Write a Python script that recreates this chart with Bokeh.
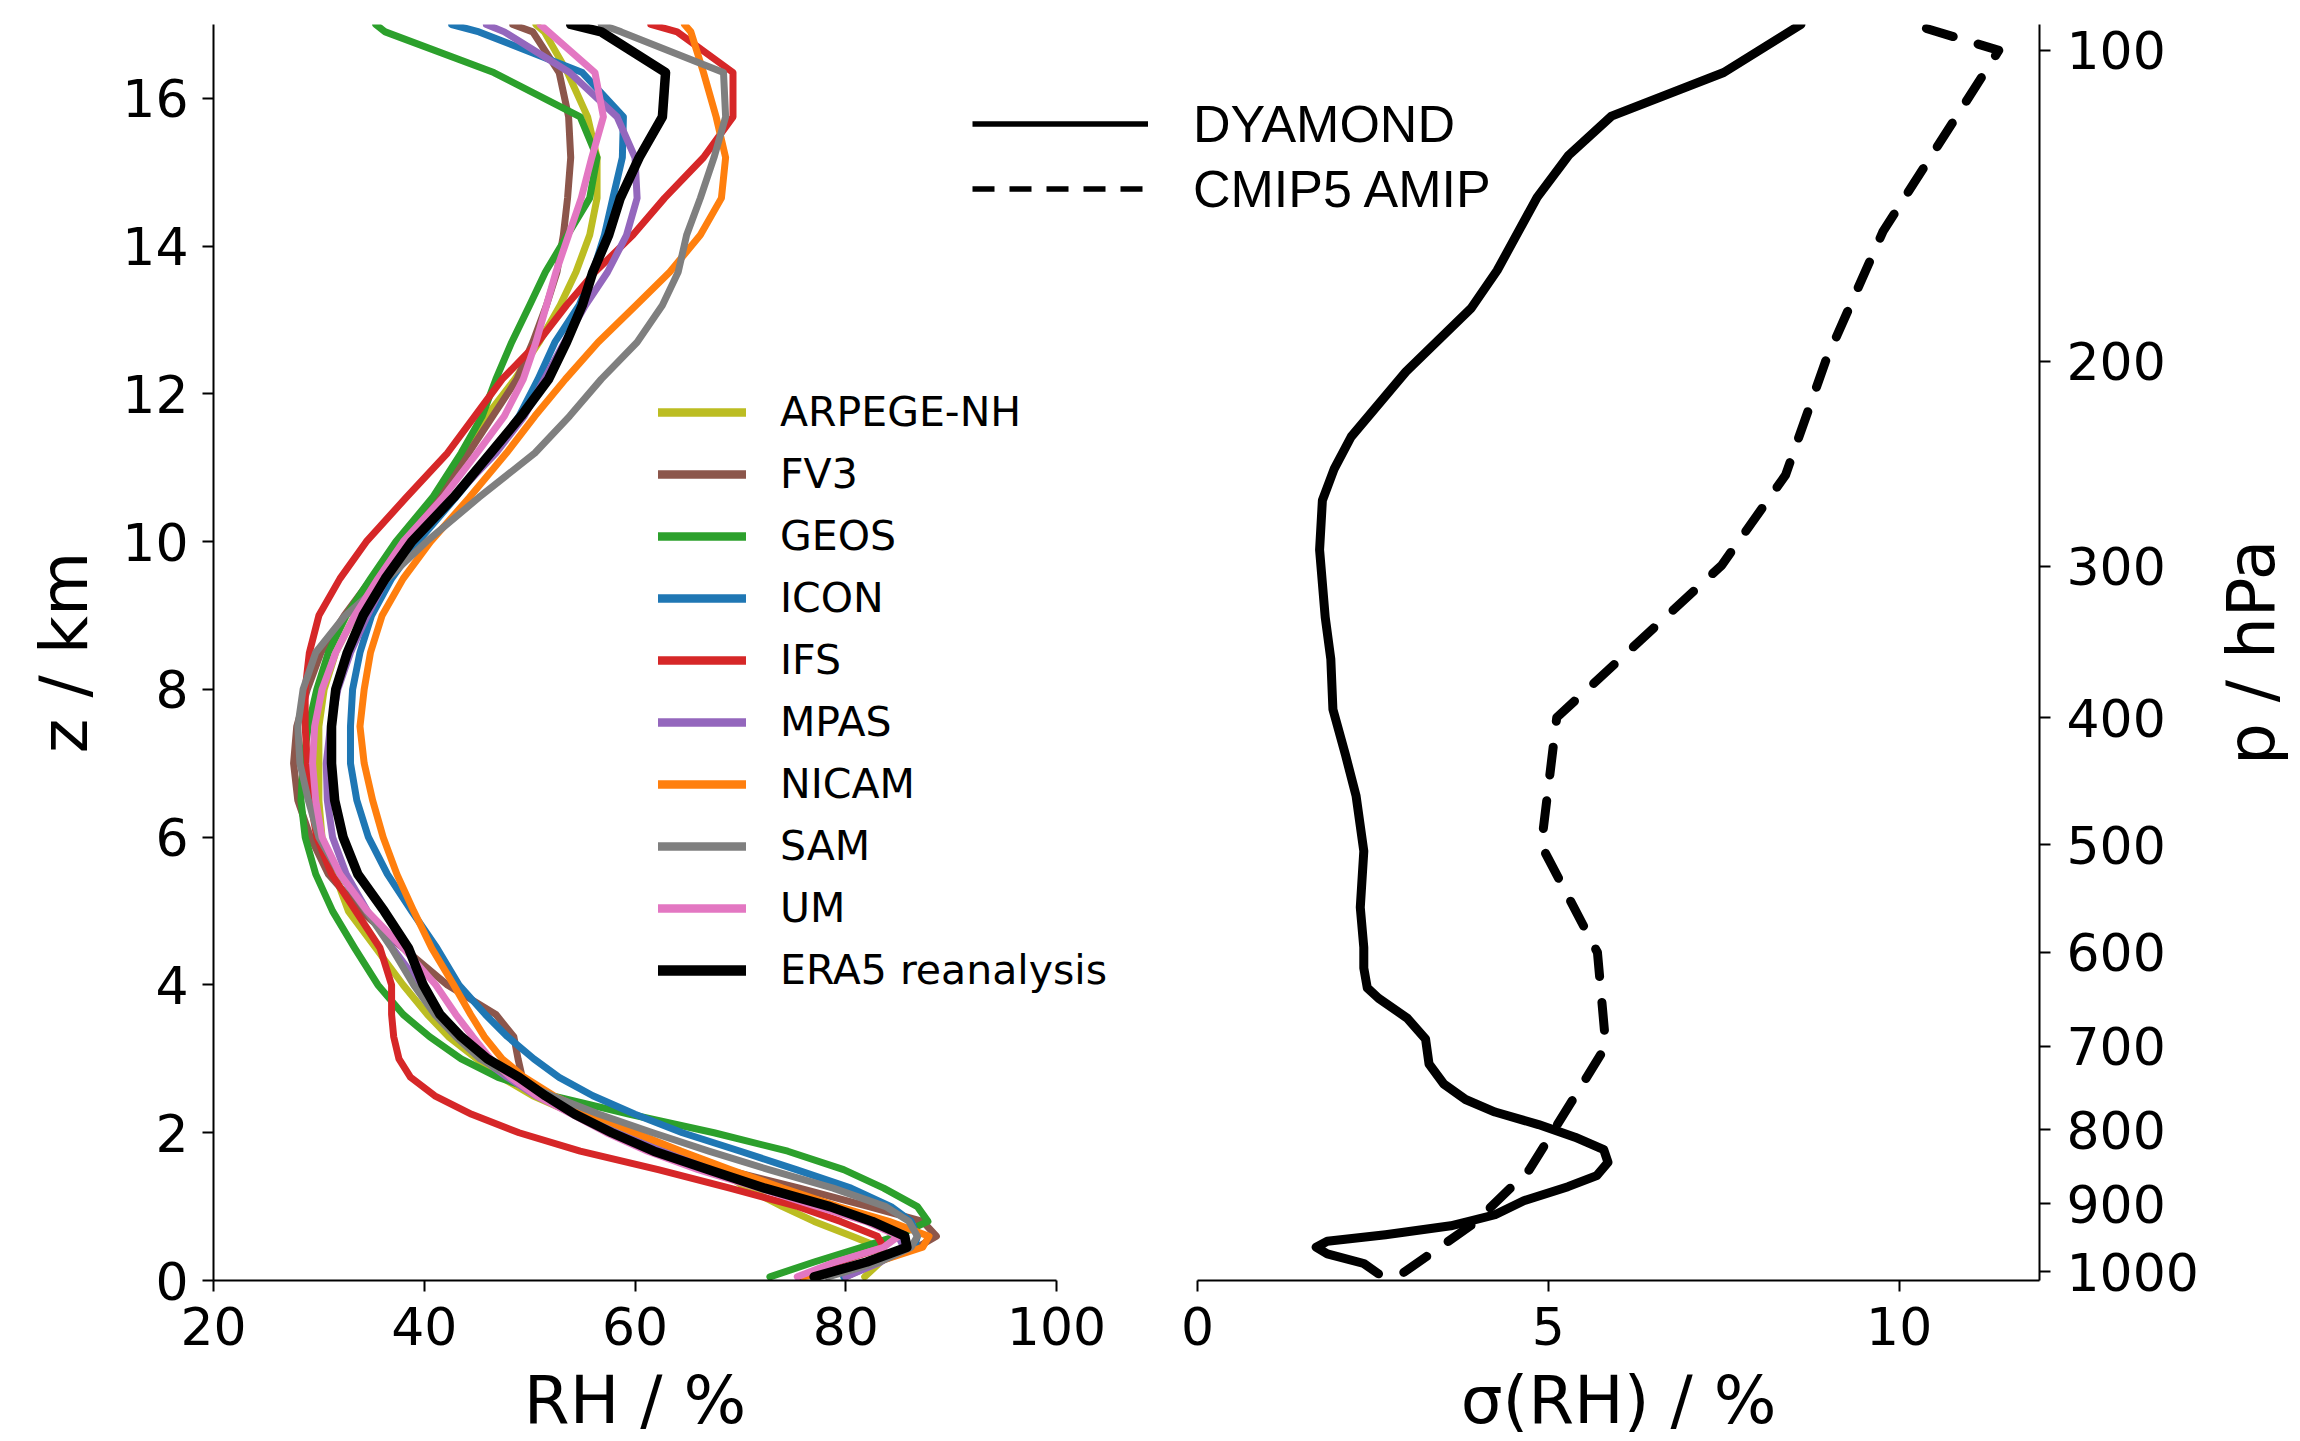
import math
from bokeh.plotting import figure
from bokeh.models import Range1d, FixedTicker, Legend, LegendItem, Label
from bokeh.layouts import row
from bokeh.embed import file_html
from bokeh.resources import INLINE

FONT = "DejaVu Sans"
NAN = float("nan")

# ---------------- data: left panel (RH profiles) ----------------
z_km = [0.05, 0.25, 0.45, 0.6, 0.8, 1.0, 1.25, 1.5, 1.75, 2.0,
        2.25, 2.5, 2.75, 3.0, 3.3, 3.6, 4.0, 4.5, 5.0, 5.5,
        6.0, 6.5, 7.0, 7.5, 8.0, 8.5, 9.0, 9.5, 10.0, 10.6,
        11.2, 11.7, 12.2, 12.7, 13.2, 13.65, 14.15, 14.65, 15.2, 15.75,
        16.35, 16.9, 17.0]

rh_arpege = [81.8, 83.3, 83.2, 80.6, 77.0, 74.0, 70.6, 67.9, 64.3, 59.5,
             54.3, 50.3, 47.3, 45.0, 42.3, 40.3, 38.0, 35.4, 32.8, 31.5,
             30.3, 30.0, 30.0, 30.0, 30.5, 31.6, 33.4, 35.4, 37.7, 41.3,
             44.0, 45.9, 48.6, 50.9, 52.9, 54.4, 55.7, 56.4, 56.4, 55.5,
             53.6, 51.4, 50.6]
rh_fv3 = [80.0, 83.0, 86.8, 88.6, 87.3, 82.2, 75.6, 68.6, 62.5, 58.0,
          54.3, 51.2, 49.3, 48.9, 48.5, 46.8, 42.2, 38.0, 34.0, 30.9,
          29.2, 28.0, 27.6, 27.9, 28.9, 30.2, 32.4, 35.0, 37.7, 41.2,
          44.2, 46.5, 48.8, 50.3, 51.6, 52.6, 53.2, 53.6, 53.9, 53.7,
          52.8, 50.3, 48.4]
rh_geos = [72.8, 77.0, 81.5, 84.8, 87.8, 86.8, 83.6, 79.8, 74.5, 67.5,
           59.5, 52.2, 47.0, 43.5, 40.5, 38.0, 35.6, 33.4, 31.3, 29.7,
           28.7, 28.3, 28.5, 29.0, 29.8, 30.9, 32.6, 34.9, 37.3, 40.8,
           43.5, 45.5, 46.8, 48.3, 50.0, 51.5, 53.6, 55.7, 56.4, 54.8,
           46.6, 36.3, 35.4]
rh_icon = [79.8, 83.0, 86.5, 86.8, 86.2, 84.3, 80.5, 75.3, 70.0, 64.5,
           60.0, 56.0, 52.8, 50.4, 47.9, 45.8, 43.3, 41.2, 38.8, 36.5,
           34.7, 33.6, 33.0, 33.0, 33.2, 33.9, 35.0, 36.9, 39.4, 43.0,
           46.5, 49.0, 50.8, 52.4, 54.7, 56.0, 57.1, 57.9, 58.8, 58.9,
           55.0, 45.2, 42.6]
rh_ifs = [75.8, 79.3, 83.6, 83.0, 79.5, 75.5, 69.0, 62.2, 54.8, 49.0,
          44.5, 41.0, 38.7, 37.6, 37.1, 36.9, 36.9, 35.8, 33.5, 31.2,
          29.8, 29.2, 28.9, 28.7, 28.7, 29.1, 30.0, 32.0, 34.5, 38.3,
          42.2, 44.8, 47.4, 50.8, 53.5, 56.2, 59.8, 62.8, 66.5, 69.3,
          69.3, 64.0, 61.5]
rh_mpas = [80.0, 83.3, 85.5, 85.0, 82.4, 78.5, 73.0, 67.6, 62.6, 58.3,
           54.3, 50.6, 47.9, 45.5, 43.4, 41.6, 39.6, 37.0, 34.6, 32.6,
           31.3, 30.8, 30.7, 31.1, 31.8, 33.0, 34.6, 36.4, 38.6, 42.8,
           46.8, 49.5, 51.4, 53.3, 55.3, 57.4, 59.2, 60.2, 60.0, 58.3,
           53.8, 47.6, 45.9]
rh_nicam = [76.0, 83.0, 87.3, 87.9, 84.1, 79.3, 74.0, 69.1, 64.4, 60.0,
            56.0, 52.3, 49.5, 47.4, 45.7, 44.4, 42.8, 40.7, 39.0, 37.4,
            36.1, 35.1, 34.3, 33.9, 34.3, 34.9, 36.0, 38.0, 40.6, 44.3,
            47.8, 50.5, 53.4, 56.5, 60.1, 63.3, 66.2, 68.2, 68.6, 67.7,
            66.5, 65.3, 64.7]
rh_sam = [78.3, 83.2, 86.2, 86.8, 86.0, 83.8, 78.8, 72.7, 67.0, 61.7,
          56.6, 52.1, 48.3, 45.3, 43.0, 41.0, 39.0, 36.9, 34.5, 32.0,
          30.0, 29.0, 28.2, 28.0, 28.5, 29.7, 32.5, 36.5, 40.2, 45.2,
          50.5, 53.8, 56.8, 60.2, 62.6, 64.1, 64.9, 66.2, 67.5, 68.6,
          68.4, 58.7, 56.8]
rh_um = [75.4, 79.0, 83.6, 85.0, 81.9, 77.3, 71.8, 66.0, 61.2, 57.3,
         54.0, 50.7, 48.2, 46.3, 44.6, 43.0, 41.1, 38.0, 34.6, 32.0,
         30.3, 29.7, 29.4, 29.6, 30.3, 31.6, 33.4, 35.6, 38.0, 41.8,
         45.0, 47.6, 49.4, 50.6, 51.6, 52.5, 53.7, 54.9, 55.9, 57.0,
         56.2, 51.8, 51.0]
rh_era5 = [77.0, 82.0, 85.8, 85.6, 82.5, 78.5, 72.3, 67.0, 61.8, 57.8,
           54.3, 51.5, 49.0, 46.0, 43.5, 41.5, 39.9, 38.5, 36.2, 33.7,
           32.3, 31.5, 31.2, 31.2, 31.6, 32.7, 34.2, 36.3, 38.8, 42.8,
           46.3, 49.2, 51.8, 53.5, 55.0, 56.0, 57.5, 58.6, 60.4, 62.6,
           62.9, 56.8, 53.9]

model_names = ["ARPEGE-NH", "FV3", "GEOS", "ICON", "IFS", "MPAS", "NICAM",
               "SAM", "UM", "ERA5 reanalysis"]
model_colors = ["#bcbd22", "#8c564b", "#2ca02c", "#1f77b4", "#d62728",
                "#9467bd", "#ff7f0e", "#7f7f7f", "#e377c2", "#000000"]
model_rh = [rh_arpege, rh_fv3, rh_geos, rh_icon, rh_ifs, rh_mpas, rh_nicam,
            rh_sam, rh_um, rh_era5]

rh_ticks = [20, 40, 60, 80, 100]
z_ticks = [0, 2, 4, 6, 8, 10, 12, 14, 16]

# ---------------- data: right panel (spread of RH) ----------------
dyamond_z = [0.09, 0.23, 0.36, 0.45, 0.53, 0.62, 0.74, 0.89, 1.08, 1.27,
             1.42, 1.6, 1.77, 1.94, 2.11, 2.28, 2.45, 2.66, 2.93, 3.27,
             3.55, 3.82, 3.96, 4.23, 4.51, 5.05, 5.81, 6.56, 7.11, 7.73,
             8.41, 8.98, 9.89, 10.56, 10.99, 11.42, 12.3, 13.16, 13.67, 14.66,
             15.23, 15.76, 16.35, 17.0]
dyamond_sd = [2.58, 2.37, 1.85, 1.69, 1.85, 2.68, 3.61, 4.24, 4.65, 5.28,
              5.69, 5.85, 5.79, 5.38, 4.86, 4.24, 3.82, 3.51, 3.3, 3.25,
              2.99, 2.58, 2.42, 2.37, 2.37, 2.32, 2.37, 2.26, 2.11, 1.93,
              1.9, 1.82, 1.74, 1.78, 1.95, 2.19, 2.97, 3.9, 4.27, 4.84,
              5.29, 5.9, 7.5, 8.6]

cmip5_z = [0.11, 0.78, 1.5, 3.17, 4.44, 5.89, 7.62, 9.68, 10.9, 12.44, 14.2, 16.65, 17.0]
cmip5_sd = [2.94, 3.95, 4.73, 5.82, 5.7, 4.9, 5.12, 7.47, 8.38, 8.95, 9.77, 11.42, 10.2]

sd_ticks = [0, 5, 10]
p_labels = ["100", "200", "300", "400", "500", "600", "700", "800", "900", "1000"]
p_heights = [16.65, 12.44, 9.67, 7.62, 5.9, 4.44, 3.17, 2.04, 1.04, 0.12]

TOP, BOTTOM = 24, 158  # border sizes shared by every canvas (frame: 24 .. 1283 px)


def style_axis(ax, label):
    ax.axis_label = label
    ax.axis_line_color = "black"
    ax.axis_line_width = 2
    ax.major_tick_line_color = "black"
    ax.major_tick_line_width = 2
    ax.major_tick_out = 11
    ax.major_tick_in = 0
    ax.minor_tick_line_color = None
    ax.major_label_text_font = FONT
    ax.major_label_text_font_size = "52px"
    ax.major_label_text_color = "black"
    ax.axis_label_text_font = FONT
    ax.axis_label_text_font_size = "66px"
    ax.axis_label_text_font_style = "normal"
    ax.axis_label_text_color = "black"


def overlay_figure(width, margin_left, x_end=1.0):
    f = figure(width=width, height=1441, x_range=Range1d(0, x_end), y_range=z_range,
               x_axis_location=None, y_axis_location=None,
               output_backend="svg", toolbar_location=None,
               min_border_left=0, min_border_right=0,
               min_border_top=TOP, min_border_bottom=BOTTOM)
    f.margin = (0, 0, 0, margin_left)
    f.outline_line_color = None
    f.grid.visible = False
    f.background_fill_color = None
    f.border_fill_color = None
    return f


z_range = Range1d(0, 17)

# ---------------- left panel: canvas 0..1130, frame 213..1056 ----------------
p1 = figure(width=1130, height=1441, x_range=Range1d(20, 100), y_range=z_range,
            output_backend="svg", toolbar_location=None,
            min_border_left=213, min_border_right=74,
            min_border_top=TOP, min_border_bottom=BOTTOM)
p1.outline_line_color = None
p1.grid.visible = False

for name, col, rh in zip(model_names, model_colors, model_rh):
    is_ref = name.startswith("ERA5")
    p1.line(rh, z_km, line_color=col, line_width=9.5 if is_ref else 7,
            line_cap="round", line_join="round")

style_axis(p1.xaxis[0], "RH / %")
p1.xaxis[0].ticker = FixedTicker(ticks=rh_ticks)
p1.xaxis[0].major_label_standoff = 15
p1.xaxis[0].axis_label_standoff = 14
style_axis(p1.yaxis[0], "z / km")
p1.yaxis[0].ticker = FixedTicker(ticks=z_ticks)
p1.yaxis[0].major_label_standoff = 14
p1.yaxis[0].axis_label_standoff = 16

# ---------------- legend layer: canvas 640..1560 (transparent overlay) ----------------
p4 = overlay_figure(920, -490)
items1 = []
for name, col in zip(model_names, model_colors):
    is_ref = name.startswith("ERA5")
    h = p4.line([NAN], [NAN], line_color=col, line_width=10.5 if is_ref else 8.5,
                line_cap="round")
    items1.append(LegendItem(label=name, renderers=[h]))
leg1 = Legend(items=items1, location=(18, 279), glyph_width=88, glyph_height=62,
              label_height=62, spacing=0, padding=0, margin=0, label_standoff=34,
              label_text_font=FONT, label_text_font_size="41px",
              label_text_color="black", border_line_color=None,
              background_fill_alpha=0)
p4.add_layout(leg1)

h_dy = p4.line([NAN], [NAN], line_color="black", line_width=5.5, line_cap="butt")
h_cm = p4.line([NAN], [NAN], line_color="black", line_width=5.5, line_cap="butt",
               line_dash="22 15")
leg2 = Legend(items=[LegendItem(label="DYAMOND", renderers=[h_dy]),
                     LegendItem(label="CMIP5 AMIP", renderers=[h_cm])],
              location=(332, 1059), glyph_width=176, glyph_height=65,
              label_height=65, spacing=0, padding=0, margin=0, label_standoff=45,
              label_text_font="Liberation Sans", label_text_font_size="52px",
              label_text_color="black", border_line_color=None,
              background_fill_alpha=0)
p4.add_layout(leg2)

# ---------------- right panel: canvas 1130..2300, frame 1197..2039 ----------------
p2 = figure(width=1170, height=1441, x_range=Range1d(0, 12), y_range=z_range,
            y_axis_location="right",
            output_backend="svg", toolbar_location=None,
            min_border_left=67, min_border_right=261,
            min_border_top=TOP, min_border_bottom=BOTTOM)
p2.margin = (0, 0, 0, -430)
p2.outline_line_color = None
p2.grid.visible = False
p2.background_fill_color = None
p2.border_fill_color = None

p2.line(dyamond_sd, dyamond_z, line_color="black", line_width=9,
        line_cap="round", line_join="round")
p2.line(cmip5_sd, cmip5_z, line_color="black", line_width=9,
        line_dash="28 26", line_cap="round", line_join="round")

style_axis(p2.xaxis[0], "σ(RH) / %")
p2.xaxis[0].ticker = FixedTicker(ticks=sd_ticks)
p2.xaxis[0].major_label_standoff = 15
p2.xaxis[0].axis_label_standoff = 14

ax_r = p2.yaxis[0]
style_axis(ax_r, "")
ax_r.axis_label = None
ax_r.ticker = FixedTicker(ticks=p_heights)
ax_r.major_label_overrides = {h: lab for h, lab in zip(p_heights, p_labels)}
ax_r.major_label_standoff = 16

# ---------------- strip holding the right axis title: canvas 2180..2300 ----------------
p3 = overlay_figure(120, -120, x_end=120)
p3.add_layout(Label(x=71, y=8.5, text="p / hPa", angle=math.pi / 2,
                    text_align="center", text_baseline="alphabetic",
                    text_font=FONT, text_font_size="66px", text_color="black"))

layout = row(p1, p4, p2, p3)
open("out.html", "w").write(file_html(layout, INLINE))
